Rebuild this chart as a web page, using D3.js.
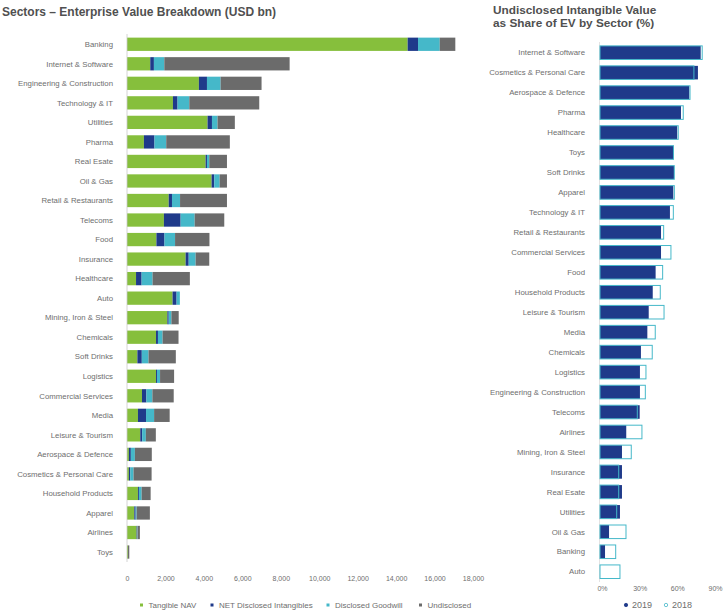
<!DOCTYPE html>
<html>
<head>
<meta charset="utf-8">
<script src="https://cdn.jsdelivr.net/npm/d3@7"></script>
<style>
  body { margin: 0; background: #fff; }
  svg { display: block; font-family: "Liberation Sans", Arial, sans-serif; }
</style>
</head>
<body>
<div id="app"></div>
<script>
// left chart: EV breakdown, USD bn
const sectors = ['Banking', 'Internet & Software', 'Engineering & Construction', 'Technology & IT',
  'Utilities', 'Pharma', 'Real Esate', 'Oil & Gas', 'Retail & Restaurants', 'Telecoms', 'Food',
  'Insurance', 'Healthcare', 'Auto', 'Mining, Iron & Steel', 'Chemicals', 'Soft Drinks', 'Logistics',
  'Commercial Services', 'Media', 'Leisure & Tourism', 'Aerospace & Defence',
  'Cosmetics & Personal Care', 'Household Products', 'Apparel', 'Airlines', 'Toys'];
const tangibleNav    = [14600, 1210, 3740, 2390, 4190, 880, 4090, 4400, 2170, 1920, 1530, 3050, 470, 2370, 2100, 1510, 540, 1510, 780, 570, 690, 100, 100, 570, 380, 500, 50];
const netIntangibles = [540, 190, 420, 240, 230, 550, 70, 140, 170, 870, 420, 160, 290, 210, 70, 100, 230, 50, 230, 420, 100, 100, 70, 50, 70, 30, 0];
const goodwill       = [1130, 540, 710, 610, 290, 610, 120, 280, 420, 730, 550, 360, 570, 170, 140, 240, 350, 160, 310, 420, 190, 210, 170, 140, 50, 20, 0];
const undisclosed    = [810, 6520, 2130, 3640, 900, 3310, 920, 380, 2440, 1540, 1790, 710, 1940, 0, 380, 830, 1420, 730, 1110, 810, 520, 880, 940, 470, 690, 120, 70];
const evTicks = [0, 2000, 4000, 6000, 8000, 10000, 12000, 14000, 16000, 18000];
const seriesNames = ['Tangible NAV', 'NET Disclosed Intangibles', 'Disclosed Goodwill', 'Undisclosed'];

// right chart: undisclosed share of EV, %
const shareSectors = ['Internet & Software', 'Cosmetics & Personal Care', 'Aerospace & Defence', 'Pharma',
  'Healthcare', 'Toys', 'Soft Drinks', 'Apparel', 'Technology &  IT', 'Retail & Restaurants',
  'Commercial Services', 'Food', 'Household Products', 'Leisure & Tourism', 'Media', 'Chemicals',
  'Logistics', 'Engineering & Construction', 'Telecoms', 'Airlines', 'Mining, Iron & Steel',
  'Insurance', 'Real Esate', 'Utilities', 'Oil & Gas', 'Banking', 'Auto'];
const share2019 = [80.2, 78, 71.1, 64.5, 61.5, 58.7, 58.9, 58.4, 55.7, 48.6, 48.6, 44.3, 42, 38.8, 37.7, 32.6, 31.8, 31.8, 31.6, 20.9, 17.5, 17.5, 17.5, 15.9, 7.2, 4, 0];
const share2018 = [81.4, 74.8, 71.7, 66.3, 62.3, 58.5, 59.2, 59.2, 58.4, 50.7, 56.5, 49.9, 48, 51, 44, 41.6, 36.6, 36.1, 29.7, 33.4, 24.9, 14.9, 14.9, 13.3, 20.7, 12.5, 15.9];
const shareTicks = [0, 30, 60, 90];

const colors = ['#86bf3c', '#1f3a8a', '#45b8c9', '#6b6b6b'];
const textCol = '#6e6e6e';

const svg = d3.select('#app').append('svg')
  .attr('width', 727)
  .attr('height', 613);

// ---------- left ----------
svg.append('text')
  .attr('x', 2).attr('y', 16)
  .attr('font-size', 12).attr('font-weight', 'bold').attr('fill', '#505050')
  .text('Sectors – Enterprise Value Breakdown (USD bn)');

const rows = sectors.map((s, i) => ({
  sector: s, s0: tangibleNav[i], s1: netIntangibles[i], s2: goodwill[i], s3: undisclosed[i]
}));
const stacked = d3.stack().keys(['s0', 's1', 's2', 's3'])(rows);

const x = d3.scaleLinear().domain([0, 18000]).range([127, 473]);
const y = d3.scaleBand().domain(sectors).range([34.5, 561.8])
  .paddingInner(0.32).paddingOuter(0.16);

svg.append('g').selectAll('g')
  .data(stacked)
  .join('g')
  .attr('fill', (d, i) => colors[i])
  .selectAll('rect')
  .data(d => d)
  .join('rect')
  .attr('x', d => x(d[0]))
  .attr('width', d => x(d[1]) - x(d[0]))
  .attr('y', d => y(d.data.sector))
  .attr('height', y.bandwidth());

svg.append('line')
  .attr('x1', x(0)).attr('x2', x(0))
  .attr('y1', 34).attr('y2', 562)
  .attr('stroke', '#c9c9c9').attr('stroke-width', 0.8);

svg.append('g').selectAll('text')
  .data(sectors)
  .join('text')
  .attr('x', 113)
  .attr('y', d => y(d) + y.bandwidth() / 2)
  .attr('dy', '0.35em')
  .attr('text-anchor', 'end')
  .attr('font-size', 7.8).attr('fill', textCol)
  .text(d => d);

const xAxis = svg.append('g')
  .attr('transform', 'translate(0,573)')
  .call(d3.axisBottom(x).tickValues(evTicks).tickFormat(d3.format(',')).tickSize(0));
xAxis.select('.domain').remove();
xAxis.selectAll('text').attr('font-size', 7).attr('fill', textCol)
  .attr('font-family', '"Liberation Sans", Arial, sans-serif');

const legendX = [141.5, 212, 328, 420.5];
const legend = svg.append('g').selectAll('g')
  .data(seriesNames)
  .join('g')
  .attr('transform', (d, i) => `translate(${legendX[i]},605)`);
legend.append('rect')
  .attr('x', -1.5).attr('y', -1.5).attr('width', 3).attr('height', 3)
  .attr('fill', (d, i) => colors[i]);
legend.append('text')
  .attr('x', 7).attr('dy', '0.35em')
  .attr('font-size', 8).attr('fill', textCol)
  .text(d => d);

// ---------- right ----------
const title2 = svg.append('text')
  .attr('x', 493).attr('y', 13.5)
  .attr('font-size', 11.8).attr('font-weight', 'bold').attr('fill', '#505050');
title2.append('tspan').attr('x', 493).text('Undisclosed Intangible Value');
title2.append('tspan').attr('x', 493).attr('dy', 13.5).text('as Share of EV by Sector (%)');

const sx = d3.scaleLinear().domain([0, 90]).range([600, 713]);
const sy = d3.scaleBand().domain(shareSectors).range([42.7, 581.7])
  .paddingInner(0.32).paddingOuter(0.16);

svg.append('line')
  .attr('x1', sx(0) - 0.5).attr('x2', sx(0) - 0.5)
  .attr('y1', 42).attr('y2', 582)
  .attr('stroke', '#dcdcdc').attr('stroke-width', 0.8);

svg.append('g').selectAll('rect')
  .data(shareSectors)
  .join('rect')
  .attr('x', sx(0))
  .attr('y', d => sy(d))
  .attr('width', (d, i) => sx(share2019[i]) - sx(0))
  .attr('height', sy.bandwidth())
  .attr('fill', colors[1]);

svg.append('g').selectAll('rect')
  .data(shareSectors)
  .join('rect')
  .attr('x', sx(0))
  .attr('y', d => sy(d))
  .attr('width', (d, i) => sx(share2018[i]) - sx(0))
  .attr('height', sy.bandwidth())
  .attr('fill', 'none')
  .attr('stroke', colors[2])
  .attr('stroke-width', 1);

svg.append('g').selectAll('text')
  .data(shareSectors)
  .join('text')
  .attr('x', 585)
  .attr('y', d => sy(d) + sy.bandwidth() / 2)
  .attr('dy', '0.35em')
  .attr('text-anchor', 'end')
  .attr('font-size', 7.8).attr('fill', textCol)
  .text(d => d);

const sAxis = svg.append('g')
  .attr('transform', 'translate(2,583)')
  .call(d3.axisBottom(sx).tickValues(shareTicks).tickFormat(d => d + '%').tickSize(0));
sAxis.select('.domain').remove();
sAxis.selectAll('text').attr('font-size', 7).attr('fill', textCol)
  .attr('font-family', '"Liberation Sans", Arial, sans-serif');

const years = ['2019', '2018'];
const yearX = [626, 666];
const yl = svg.append('g').selectAll('g')
  .data(years)
  .join('g')
  .attr('transform', (d, i) => `translate(${yearX[i]},605)`);
yl.append('circle')
  .attr('r', 1.7)
  .attr('fill', (d, i) => i === 0 ? colors[1] : '#fff')
  .attr('stroke', (d, i) => i === 0 ? colors[1] : colors[2])
  .attr('stroke-width', 0.8);
yl.append('text')
  .attr('x', 6).attr('dy', '0.35em')
  .attr('font-size', 9).attr('fill', textCol)
  .text(d => d);
</script>
</body>
</html>
